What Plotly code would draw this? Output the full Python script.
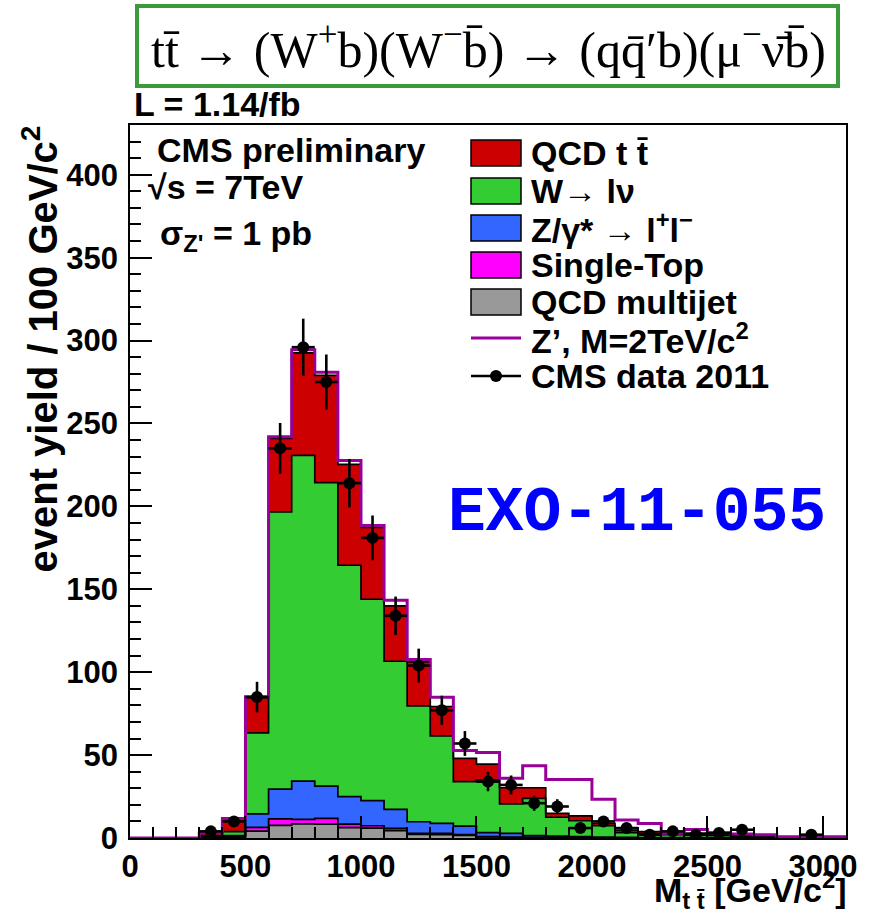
import plotly.graph_objects as go
import numpy as np

# ---------------- data ----------------
bin_low = [0, 100, 200, 300, 400, 500, 600, 700, 800, 900, 1000, 1100, 1200, 1300, 1400,
           1500, 1600, 1700, 1800, 1900, 2000, 2100, 2200, 2300, 2400, 2500, 2600, 2700,
           2800, 2900, 3000]
bin_width = 100

qcd_multijet = [0, 0, 0, 0.3, 0.5, 4.2, 7.6, 8.5, 8.4, 6.2, 6.0, 4.4, 2.2, 2.0, 1.6,
                0.6, 0.5, 0.4, 0.4, 0.3, 0.3, 0.2, 0.2, 0.1, 0.1, 0.1, 0.1, 0, 0, 0, 0]
single_top = [0, 0, 0, 0.7, 0.4, 2.2, 3.9, 2.7, 3.4, 2.2, 1.4, 1.4, 0.6, 0.8, 0.4,
              0.2, 0.1, 0.1, 0.1, 0.1, 0.0, 0.1, 0.0, 0.1, 0.0, 0.0, 0.0, 0, 0, 0, 0]
z_gamma = [0, 0, 0, 0.2, 0.5, 8.1, 18.0, 23.1, 19.5, 16.5, 15.1, 11.5, 7.0, 6.0, 5.2,
           2.5, 2.2, 1.0, 0.7, 0.4, 0.3, 0.1, 0.1, 0.1, 0.1, 0.1, 0.0, 0.1, 0, 0, 0]
w_lnu = [0, 0, 0, 0.3, 2.4, 48.9, 167.1, 196.4, 183.0, 139.6, 121.5, 89.3, 69.9, 52.7, 26.8,
         31.7, 17.7, 22.4, 11.3, 9.6, 6.8, 2.8, 2.3, 1.7, 2.0, 1.3, 0.9, 0.5, 0.3, 0.2, 0.2]
qcd_ttbar = [0, 0, 0, 1.5, 8.0, 21.1, 44.4, 61.9, 64.7, 60.8, 43.3, 33.4, 26.5, 17.8, 14.0,
             9.6, 9.8, 6.4, 2.4, 2.9, 1.4, 1.6, 1.2, 0.4, 0.8, 0.7, 0.6, 0.4, 0.3, 0.3, 0.2]
zprime_2tev = [0, 0, 0, 0, 0, 0.7, 1.0, 1.8, 1.9, 2.4, 1.2, 3.4, 1.4, 5.6, 4.8,
               7.0, 5.7, 13.3, 20.4, 22.0, 14.5, 6.0, 5.0, 0.4, 2.2, 1.0, 0.8, 1.0, 0.2, 0.3, 0.4]
data_2011 = [None, None, None, 4, 10, 85, 235, 296, 275, 214, 181, 134, 104, 77, 57,
             34, 32, 21, 19, 6, 10, 6, 2, 4, 2, 3, 5, None, None, 2, None]
data_err = [None, None, None, 2.0, 3.2, 9.2, 15.3, 17.2, 16.6, 14.6, 13.5, 11.6, 10.2, 8.8, 7.5,
            5.8, 5.7, 4.6, 4.4, 2.4, 3.2, 2.4, 1.4, 2.0, 1.4, 1.7, 2.2, None, None, 1.4, None]

stack_order = [
    ("QCD multijet", qcd_multijet, "#999999"),
    ("Single-Top", single_top, "#ff00ff"),
    ("Z/γ* → l⁺l⁻", z_gamma, "#3366ff"),
    ("W→ lν", w_lnu, "#33cc33"),
    ("QCD t t̄", qcd_ttbar, "#cc0000"),
]

# ---------------- figure geometry ----------------
FIG_W, FIG_H = 875, 918
L, R, T, B = 130, 846, 125, 838   # plot area in pixels
PW, PH = R - L, B - T


def px(x):
    return (x - L) / PW


def py(y):
    return (B - y) / PH


HELV = "Liberation Sans"
TXT = 34
edges = bin_low + [bin_low[-1] + bin_width]
centers = [b + bin_width / 2 for b in bin_low]

fig = go.Figure()

cum = np.zeros(len(bin_low))
for i, (name, vals, col) in enumerate(stack_order):
    cum = cum + np.array(vals, dtype=float)
    yv = list(cum) + [cum[-1]]
    fig.add_trace(go.Scatter(
        x=edges, y=yv, mode="lines", line_shape="hv",
        line=dict(color="black", width=1.7),
        fill="tozeroy" if i == 0 else "tonexty", fillcolor=col,
        showlegend=False, hoverinfo="skip"))

sig = cum + np.array(zprime_2tev, dtype=float)
fig.add_trace(go.Scatter(
    x=edges, y=list(sig) + [sig[-1]], mode="lines", line_shape="hv",
    line=dict(color="#990099", width=3), showlegend=False, hoverinfo="skip"))

fig.add_trace(go.Scatter(
    x=centers, y=data_2011, mode="markers",
    marker=dict(color="black", size=12),
    error_y=dict(type="data", array=data_err, color="black", thickness=2.6, width=0),
    error_x=dict(type="constant", value=bin_width / 2, color="black", thickness=2.6, width=0),
    showlegend=False, hoverinfo="skip"))

# ---------------- axes ----------------
fig.update_xaxes(range=[0, 3100], dtick=500, tick0=0, ticks="inside", ticklen=22, tickwidth=1.5,
                 tickcolor="black", showline=True, linecolor="black", linewidth=1.5, mirror=True,
                 showgrid=False, zeroline=False,
                 tickfont=dict(family=HELV, size=31, color="black", weight="bold"),
                 minor=dict(dtick=100, ticks="inside", ticklen=11, tickwidth=1.5, tickcolor="black",
                            showgrid=False))
fig.update_yaxes(range=[0, 430], dtick=50, tick0=0, ticks="inside", ticklen=22, tickwidth=1.5,
                 tickcolor="black", showline=True, linecolor="black", linewidth=1.5, mirror=True,
                 showgrid=False, zeroline=False, ticklabelstandoff=4,
                 tickfont=dict(family=HELV, size=31, color="black", weight="bold"),
                 minor=dict(dtick=10, ticks="inside", ticklen=11, tickwidth=1.5, tickcolor="black",
                            showgrid=False))

shapes = []
ann = []

# title box
shapes.append(dict(type="rect", xref="paper", yref="paper",
                   x0=px(137), x1=px(838), y0=py(86), y1=py(6),
                   line=dict(color="#3c9a3c", width=4), fillcolor="rgba(0,0,0,0)"))
ann.append(dict(text="tt\u0304 → (W<sup>+</sup>b)(W<sup>−</sup>b\u0304) → (qq\u0304′b)(μ<sup>−</sup>ν\u0304b\u0304)",
                x=px(488), y=py(46), xanchor="center", yanchor="middle",
                font=dict(family="Liberation Serif", size=50, color="black")))

ann.append(dict(text="L = 1.14/fb", x=px(132), y=py(104), xanchor="left", yanchor="middle",
                font=dict(family=HELV, size=TXT, color="black", weight="bold")))

ann.append(dict(text="CMS preliminary", x=px(155), y=py(150), xanchor="left", yanchor="middle",
                font=dict(family=HELV, size=TXT, color="black", weight="bold")))
ann.append(dict(text="√s = 7TeV", x=px(146), y=py(187), xanchor="left", yanchor="middle",
                font=dict(family=HELV, size=TXT, color="black", weight="bold")))
ann.append(dict(text="σ<sub>Z'</sub> = 1 pb", x=px(158), y=py(236), xanchor="left", yanchor="middle",
                font=dict(family=HELV, size=TXT, color="black", weight="bold")))

ann.append(dict(text="EXO-11-055", x=px(446), y=py(513), xanchor="left", yanchor="middle",
                font=dict(family="Liberation Mono", size=63, color="#0000ff", weight="bold")))

# legend
leg_rows = [153, 191, 228, 265, 302]
leg_labels = ["QCD t t\u0304", "W→ lν", "Z/γ* → l<sup>+</sup>l<sup>−</sup>", "Single-Top", "QCD multijet"]
leg_cols = ["#cc0000", "#33cc33", "#3366ff", "#ff00ff", "#999999"]
for yc, lab, col in zip(leg_rows, leg_labels, leg_cols):
    shapes.append(dict(type="rect", xref="paper", yref="paper",
                       x0=px(471), x1=px(521), y0=py(yc + 13), y1=py(yc - 13),
                       line=dict(color="black", width=1.5), fillcolor=col))
    ann.append(dict(text=lab, x=px(529), y=py(yc), xanchor="left", yanchor="middle",
                    font=dict(family=HELV, size=TXT, color="black", weight="bold")))
shapes.append(dict(type="line", xref="paper", yref="paper", x0=px(471), x1=px(521),
                   y0=py(338), y1=py(338), line=dict(color="#990099", width=3)))
ann.append(dict(text="Z’, M=2TeV/c<sup>2</sup>", x=px(529), y=py(338), xanchor="left", yanchor="middle",
                font=dict(family=HELV, size=TXT, color="black", weight="bold")))
shapes.append(dict(type="line", xref="paper", yref="paper", x0=px(471), x1=px(521),
                   y0=py(376), y1=py(376), line=dict(color="black", width=2.6)))
shapes.append(dict(type="circle", xref="paper", yref="paper", x0=px(490), x1=px(502),
                   y0=py(382), y1=py(370), line=dict(color="black", width=0), fillcolor="black"))
ann.append(dict(text="CMS data 2011", x=px(529), y=py(376), xanchor="left", yanchor="middle",
                font=dict(family=HELV, size=TXT, color="black", weight="bold")))

# axis titles
ann.append(dict(text="event yield / 100 GeV/c<sup>2</sup>", x=px(40), y=py(124), textangle=-90,
                xanchor="center", yanchor="top",
                font=dict(family=HELV, size=40, color="black", weight="bold")))
ann.append(dict(text="M<sub>t t\u0304</sub> [GeV/c<sup>2</sup>]", x=px(849), y=py(890),
                xanchor="right", yanchor="middle",
                font=dict(family=HELV, size=TXT, color="black", weight="bold")))

for a in ann:
    a.update(xref="paper", yref="paper", showarrow=False)

fig.update_layout(width=FIG_W, height=FIG_H,
                  margin=dict(l=L, r=FIG_W - R, t=T, b=FIG_H - B, pad=0),
                  paper_bgcolor="white", plot_bgcolor="white",
                  shapes=shapes, annotations=ann, showlegend=False)

fig.write_html("out.html")
